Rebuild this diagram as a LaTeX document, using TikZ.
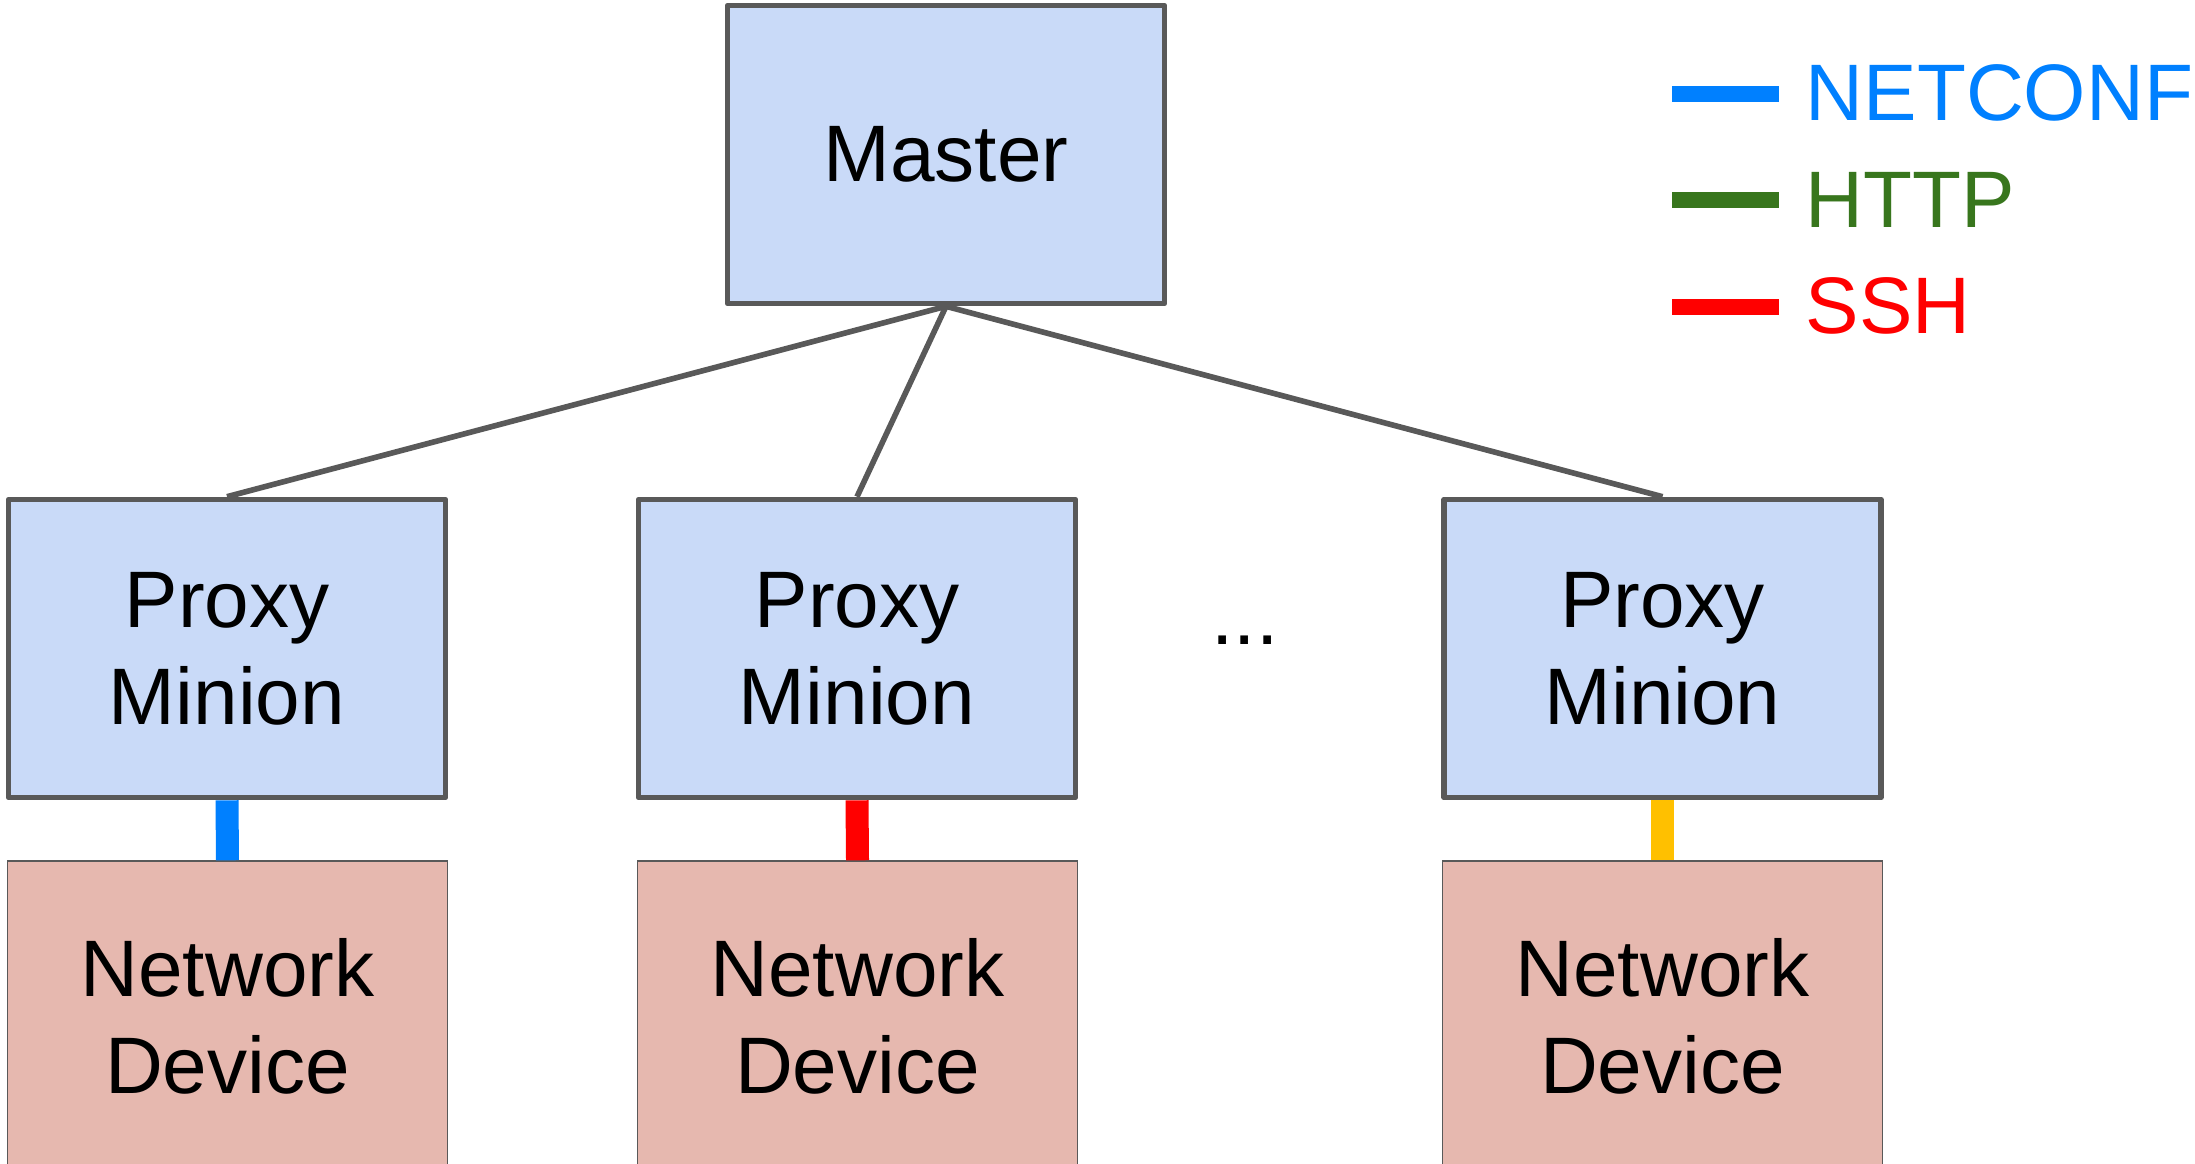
\documentclass[tikz,border=0pt]{standalone}
\usepackage{fontspec}
\setmainfont{Liberation Sans}
\usetikzlibrary{positioning}

\definecolor{boxline}{HTML}{595959}
\definecolor{saltfill}{HTML}{C9DAF8}
\definecolor{devfill}{HTML}{E6B8AF}
\definecolor{netconfc}{HTML}{0080FF}
\definecolor{httpc}{HTML}{38761D}
\definecolor{sshc}{HTML}{FF0000}
\definecolor{otherc}{HTML}{FFC000}

\begin{document}
\begin{tikzpicture}[
    every node/.style={font=\fontsize{22.8}{27.6}\selectfont},
    saltbox/.style={rectangle, draw=boxline, fill=saltfill, line width=1.6pt,
        line join=round, minimum width=4.37cm, minimum height=2.98cm, align=center},
    devbox/.style={rectangle, draw=boxline, fill=devfill, line width=0.4pt,
        minimum width=4.4cm, minimum height=3.1cm, align=center},
    tree/.style={draw=boxline, line width=1.6pt},
    link/.style={line width=0.23cm}
]

    \useasboundingbox (0,0) rectangle (21.95,-11.63);

    % Master
    \node[saltbox] (master) at (9.46,-1.545) {Master};

    % proxy minions
    \node[saltbox] (proxy1) at (2.27,-6.485) {Proxy\\Minion};
    \node[saltbox] (proxy2) at (8.57,-6.485) {Proxy\\Minion};
    \node[saltbox] (proxy3) at (16.625,-6.485) {Proxy\\Minion};
    \node (dots) at (12.45,-6.40) {...};

    % network devices
    \node[devbox] (dev1) at (2.275,-10.16) {Network\\Device};
    \node[devbox] (dev2) at (8.575,-10.16) {Network\\Device};
    \node[devbox] (dev3) at (16.625,-10.16) {Network\\Device};

    % master to minions
    \draw[tree] (master.south) -- (proxy1.north);
    \draw[tree] (master.south) -- (proxy2.north);
    \draw[tree] (master.south) -- (proxy3.north);

    % minions to devices
    \draw[link, netconfc] (proxy1.south) -- (dev1.north);
    \draw[link, sshc] (proxy2.south) -- (dev2.north);
    \draw[link, otherc] (proxy3.south) -- (dev3.north);

    % legend
    \node[anchor=base west, text=netconfc, inner sep=0pt] (lnetconf) at (18.05,-1.20) {NETCONF};
    \node[anchor=base west, text=httpc, inner sep=0pt] (lhttp) at (18.05,-2.27) {HTTP};
    \node[anchor=base west, text=sshc, inner sep=0pt] (lssh) at (18.05,-3.33) {SSH};
    \coordinate (knetconf) at (16.72,-0.94);
    \coordinate (khttp) at (16.72,-2.00);
    \coordinate (kssh) at (16.72,-3.07);
    \draw[line width=0.16cm, netconfc] (knetconf) -- ++(1.07,0);
    \draw[line width=0.16cm, httpc] (khttp) -- ++(1.07,0);
    \draw[line width=0.16cm, sshc] (kssh) -- ++(1.07,0);

\end{tikzpicture}
\end{document}
